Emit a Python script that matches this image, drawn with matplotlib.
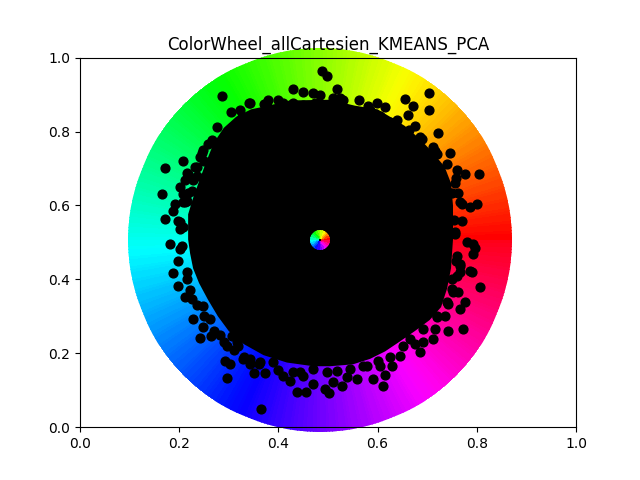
import numpy as np
import matplotlib
matplotlib.use("Agg")
import matplotlib.pyplot as plt

title = "ColorWheel_allCartesien_KMEANS_PCA"

# outline of the dense black cloud (data coords)
core_x = [0.222, 0.218, 0.218, 0.228, 0.240, 0.255, 0.270, 0.290, 0.315, 0.345,
          0.380, 0.423, 0.504, 0.554, 0.600, 0.625, 0.655, 0.685, 0.710, 0.735,
          0.748, 0.752, 0.752, 0.748, 0.740, 0.728, 0.705, 0.675, 0.645, 0.615,
          0.585, 0.550, 0.504, 0.470, 0.417, 0.370, 0.330, 0.300, 0.278, 0.258,
          0.240, 0.228]
core_y = [0.470, 0.508, 0.576, 0.620, 0.665, 0.720, 0.770, 0.810, 0.840, 0.860,
          0.870, 0.884, 0.886, 0.870, 0.860, 0.840, 0.815, 0.780, 0.745, 0.705,
          0.660, 0.600, 0.508, 0.430, 0.375, 0.325, 0.290, 0.260, 0.232, 0.205,
          0.185, 0.170, 0.165, 0.165, 0.175, 0.195, 0.225, 0.260, 0.300, 0.345,
          0.390, 0.430]

# individual points around the cloud
pts_x = [0.488, 0.498, 0.286, 0.429, 0.450, 0.470, 0.484, 0.379, 0.343, 0.323,
         0.304, 0.276, 0.266, 0.248, 0.278, 0.242, 0.208, 0.171, 0.236, 0.266,
         0.216, 0.212, 0.202, 0.165, 0.208, 0.188, 0.171, 0.202, 0.208, 0.181,
         0.206,
         0.341, 0.377, 0.363, 0.343, 0.327, 0.409, 0.429, 0.450, 0.474, 0.308,
         0.306, 0.319, 0.258, 0.246, 0.232, 0.218, 0.228, 0.208, 0.192, 0.216,
         0.585, 0.605,
         0.518, 0.524, 0.510, 0.563, 0.599, 0.615, 0.655, 0.671, 0.704, 0.704,
         0.661, 0.625, 0.645, 0.675, 0.663, 0.722, 0.685, 0.712, 0.716, 0.746,
         0.740, 0.760, 0.776, 0.804, 0.758, 0.746, 0.762, 0.770, 0.800, 0.786,
         0.770, 0.756, 0.780, 0.792,
         0.756, 0.750, 0.766, 0.756, 0.796, 0.760, 0.766, 0.786, 0.760, 0.750,
         0.792, 0.766, 0.790, 0.766, 0.806, 0.752, 0.762, 0.776, 0.766, 0.742,
         0.736, 0.720, 0.772, 0.742, 0.716, 0.692, 0.712, 0.692, 0.675, 0.685,
         0.651, 0.645, 0.629, 0.615, 0.611, 0.591, 0.558, 0.538, 0.528, 0.510,
         0.502, 0.498, 0.579, 0.605,
         0.655, 0.665, 0.518, 0.544, 0.571, 0.601, 0.625,
         0.198, 0.188, 0.198, 0.212, 0.226, 0.228, 0.248, 0.242, 0.264, 0.282,
         0.306, 0.292, 0.302, 0.296, 0.319, 0.329, 0.351, 0.373, 0.343, 0.409,
         0.423, 0.438, 0.456, 0.470, 0.365, 0.450,
         0.248, 0.262, 0.296, 0.317, 0.343, 0.363, 0.389, 0.444, 0.470, 0.494,
         0.218, 0.212, 0.198, 0.202, 0.202, 0.216,
         0.215, 0.222, 0.235, 0.250, 0.270, 0.290, 0.310, 0.330, 0.360, 0.400,
         0.430, 0.755, 0.758, 0.750, 0.740, 0.720, 0.400, 0.370, 0.530, 0.580,
         0.640, 0.690, 0.720, 0.225, 0.235, 0.250]
pts_y = [0.965, 0.951, 0.897, 0.916, 0.908, 0.903, 0.900, 0.886, 0.878, 0.859,
         0.854, 0.811, 0.778, 0.751, 0.751, 0.730, 0.719, 0.700, 0.705, 0.705,
         0.689, 0.670, 0.649, 0.632, 0.608, 0.584, 0.562, 0.554, 0.541, 0.495,
         0.489,
         0.876, 0.868, 0.851, 0.843, 0.838, 0.878, 0.876, 0.873, 0.876, 0.811,
         0.797, 0.819, 0.765, 0.743, 0.705, 0.684, 0.670, 0.630, 0.603, 0.611,
         0.859, 0.841,
         0.916, 0.892, 0.892, 0.884, 0.876, 0.865, 0.889, 0.870, 0.905, 0.859,
         0.846, 0.827, 0.800, 0.814, 0.805, 0.795, 0.784, 0.759, 0.746, 0.741,
         0.711, 0.697, 0.686, 0.684, 0.673, 0.635, 0.635, 0.603, 0.605, 0.595,
         0.557, 0.522, 0.500, 0.495,
         0.662, 0.635, 0.608, 0.527, 0.486, 0.462, 0.435, 0.422, 0.408, 0.373,
         0.468, 0.441, 0.419, 0.419, 0.378, 0.365, 0.365, 0.338, 0.319, 0.332,
         0.300, 0.297, 0.265, 0.259, 0.265, 0.265, 0.238, 0.230, 0.224, 0.203,
         0.219, 0.192, 0.165, 0.141, 0.111, 0.130, 0.130, 0.135, 0.111, 0.122,
         0.092, 0.149, 0.165, 0.165,
         0.257, 0.238, 0.151, 0.157, 0.165, 0.178, 0.189,
         0.449, 0.416, 0.381, 0.351, 0.346, 0.292, 0.270, 0.241, 0.246, 0.249,
         0.246, 0.178, 0.170, 0.132, 0.219, 0.184, 0.146, 0.146, 0.170, 0.138,
         0.124, 0.095, 0.095, 0.116, 0.048, 0.138,
         0.327, 0.292, 0.219, 0.230, 0.184, 0.176, 0.176, 0.149, 0.157, 0.103,
         0.635, 0.608, 0.557, 0.535, 0.481, 0.400,
         0.420, 0.370, 0.330, 0.300, 0.260, 0.230, 0.210, 0.190, 0.170, 0.155,
         0.150, 0.560, 0.450, 0.400, 0.340, 0.300, 0.885, 0.875, 0.885, 0.870,
         0.830, 0.780, 0.740, 0.640, 0.680, 0.720]

fig = plt.figure(figsize=(6.4, 4.8), dpi=100)

# big hue wheel behind everything
wheel = fig.add_axes([0.2, 0.1, 0.6, 0.8], projection='polar', zorder=0)
th = np.linspace(0, 2 * np.pi, 361)
rr = np.linspace(0, 1, 2)
T, R = np.meshgrid(th, rr)
wheel.pcolormesh(T, R, T[:-1, :-1] / (2 * np.pi), cmap='hsv', vmin=0, vmax=1, shading='flat')
wheel.set_ylim(0, 1)
wheel.axis('off')

ax = fig.add_subplot(111, zorder=1)
ax.set_facecolor('none')
ax.fill(core_x, core_y, color='black', lw=0)
ax.scatter(pts_x, pts_y, s=40, color='black')
ax.set_xlim(0, 1)
ax.set_ylim(0, 1)
ax.set_title(title)

# small wheel in the middle
small = fig.add_axes([0.4844, 0.4792, 0.03125, 0.04167], projection='polar', zorder=2)
th2 = np.linspace(0, 2 * np.pi, 25)
rr2 = np.linspace(0.15, 1, 4)
T2, R2 = np.meshgrid(th2, rr2)
small.pcolormesh(T2, R2, T2[:-1, :-1] / (2 * np.pi), cmap='hsv', vmin=0, vmax=1, shading='flat')
small.set_ylim(0, 1)
small.axis('off')

fig.savefig('out.png', dpi=100)
